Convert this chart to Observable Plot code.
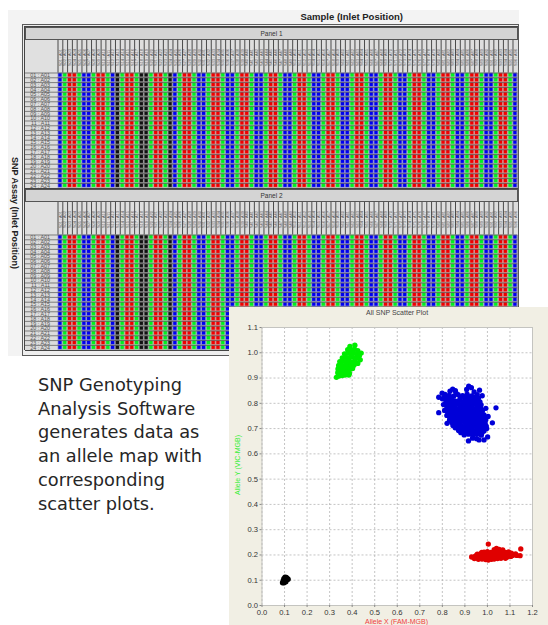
<!DOCTYPE html>
<html><head><meta charset="utf-8">
<script src="https://cdn.jsdelivr.net/npm/d3@7"></script>
<script src="https://cdn.jsdelivr.net/npm/@observablehq/plot@0.6"></script>
<style>
html,body{margin:0;padding:0;background:#fff;width:548px;height:625px;overflow:hidden}
#page{position:relative;width:548px;height:625px;overflow:hidden;font-family:"Liberation Sans",sans-serif}
.box{position:absolute;box-sizing:border-box}
.lab{position:absolute;white-space:nowrap}
.plot{position:absolute}
svg{display:block}
</style></head><body><div id="page"></div>
<script>
// Allele map: call of each sample column (same across all assays in a column), read left to right
const columnCalls = ["B","G","R","R","G","B","B","G","R","R","G","B","K","G","R","R","G","K","K","G","R","R","G","K",
"B","G","R","R","G","B","B","G","R","R","G","B","B","G","R","R","G","B","B","G","R","R","G","B",
"B","G","R","R","G","B","B","G","R","R","G","B","B","G","R","R","G","B","B","G","R","R","G","B",
"B","G","R","R","G","B","B","G","R","R","G","B","B","G","R","R","G","B","B","G","R","R","G","B"];
const sampleLabels = ["01","02","03","04","05","06","07","08","09","10","11","12","13","14","15","16","17","18","19","20","21","22","23","24",
"25","26","27","28","29","30","31","32","33","34","35","36","37","38","39","40","41","42","43","44","45","46","47","48",
"49","50","51","52","53","54","55","56","57","58","59","60","61","62","63","64","65","66","67","68","69","70","71","72",
"73","74","75","76","77","78","79","80","81","82","83","84","85","86","87","88","89","90","91","92","93","94","95","96"];
const assayLabels = ["01 : A01","02 : A02","03 : A03","04 : A04","05 : A05","06 : A06","07 : A07","08 : A08","09 : A09","10 : A10","11 : A11","12 : A12",
"13 : A13","14 : A14","15 : A15","16 : A16","17 : A17","18 : A18","19 : A19","20 : A20","21 : A21","22 : A22","23 : A23","24 : A24"];
const callNames = ["B","G","R","K"];
const callColors = ["#0000f0","#00f020","#f00000","#111111"];

// Scatter clusters
const greenPts = [[.412,1.03],[.39,1.025],[.38,1.012],[.395,1.01],[.41,1.014],[.425,1.008],[.366,.996],[.38,.998],[.394,.993],[.408,.998],[.422,.994],[.44,.999],[.432,.988],
[.356,.98],[.37,.982],[.384,.978],[.398,.983],[.412,.979],[.426,.98],[.436,.972],[.345,.965],[.358,.967],[.372,.964],[.386,.968],[.4,.963],[.414,.966],[.425,.958],
[.34,.95],[.353,.952],[.367,.949],[.38,.953],[.394,.949],[.408,.951],[.337,.936],[.35,.938],[.364,.934],[.378,.938],[.391,.935],[.402,.938],[.336,.921],[.349,.923],[.362,.92],[.376,.923],[.388,.918],
[.33,.903],[.342,.908],[.356,.91],[.368,.912],[.385,.912]];
const bluePts = [[.784,.763],[.784,.824],[.799,.84],[.812,.835],[.846,.856],[.834,.848],[.858,.85],[.917,.868],[.929,.862],[.908,.855],[.965,.852],[.941,.845],[.977,.83],[.955,.834],
[.81,.826],[.83,.831],[.85,.828],[.87,.834],[.89,.83],[.91,.836],[.93,.829],[.948,.825],
[.8,.818],[.818,.812],[.837,.815],[.856,.81],[.876,.813],[.895,.808],[.914,.815],[.933,.81],[.951,.812],[.967,.806],
[.805,.795],[.824,.798],[.843,.792],[.862,.796],[.881,.79],[.9,.795],[.919,.791],[.938,.796],[.957,.79],[.972,.794],[.993,.78],[1.038,.782],
[.81,.772],[.829,.776],[.848,.77],[.867,.774],[.886,.769],[.905,.775],[.924,.77],[.943,.774],[.962,.769],[.978,.772],
[.82,.752],[.838,.755],[.857,.75],[.876,.754],[.895,.749],[.914,.753],[.933,.75],[.952,.755],[.971,.75],[.985,.754],[1.003,.748],
[.821,.721],[.832,.733],[.85,.736],[.869,.731],[.888,.735],[.907,.73],[.926,.734],[.945,.73],[.964,.735],[.983,.73],[.993,.735],[1.022,.723],
[.847,.712],[.866,.716],[.885,.71],[.904,.714],[.923,.71],[.942,.715],[.961,.709],[.98,.713],[.995,.71],
[.872,.692],[.89,.695],[.909,.69],[.928,.694],[.947,.69],[.966,.695],[.985,.69],[.997,.7],
[.897,.675],[.916,.678],[.935,.674],[.954,.678],[.973,.674],[1.001,.667],[.916,.651],[.934,.662],[.952,.66],[.963,.655],[.985,.655],
[.82,.82],[.84,.823],[.86,.842],[.88,.822],[.9,.822],[.92,.824],[.94,.82],[.96,.82],
[.815,.803],[.832,.804],[.85,.803],[.87,.802],[.89,.801],[.91,.802],[.928,.803],[.946,.802],[.965,.8],
[.82,.785],[.838,.784],[.857,.783],[.876,.782],[.895,.783],[.914,.782],[.933,.784],[.952,.782],[.97,.783],
[.825,.763],[.843,.762],[.862,.762],[.881,.761],[.9,.762],[.919,.761],[.938,.762],[.957,.761],[.976,.762],
[.833,.744],[.852,.743],[.871,.742],[.89,.743],[.909,.742],[.928,.743],[.947,.742],[.966,.743],[.984,.742],
[.842,.724],[.861,.724],[.88,.723],[.899,.724],[.918,.723],[.937,.722],[.956,.723],[.975,.722],[.99,.722],
[.857,.703],[.876,.703],[.895,.702],[.914,.703],[.933,.702],[.952,.703],[.971,.702],[.99,.701],
[.882,.684],[.9,.685],[.919,.684],[.938,.684],[.957,.684],[.976,.684]];
const redPts = [[1.004,.243],[1.148,.224],[1.145,.197],[1.04,.226],[1.03,.221],[1.052,.222],[1.068,.22],
[.985,.211],[1.0,.213],[1.016,.21],[1.032,.214],[1.048,.211],[1.064,.213],[1.08,.21],[1.094,.212],
[.955,.203],[.97,.205],[.986,.202],[1.002,.204],[1.018,.201],[1.034,.204],[1.05,.202],[1.066,.204],[1.082,.201],[1.098,.204],[1.114,.202],[1.125,.204],
[.93,.192],[.945,.194],[.961,.192],[.977,.194],[.993,.191],[1.009,.194],[1.025,.192],[1.041,.194],[1.057,.192],[1.073,.194],[1.089,.192],[1.104,.194],
[.942,.186],[.96,.183],[.976,.184],[.992,.182],[1.004,.18],[1.018,.183],[1.03,.184],[1.045,.186],[1.06,.187],[1.08,.187],[1.1,.2],[1.13,.198],
[.95,.197],[.966,.198],[.983,.197],[1.0,.198],[1.016,.197],[1.03,.198],[1.047,.197],[1.064,.198],[1.08,.197],[1.096,.198],[1.112,.198],
[.975,.21],[1.006,.207],[1.024,.207],[1.04,.207],[1.056,.207],[1.072,.207],[1.09,.207],[1.106,.207]];
const blackPts = [[.091,.09],[.098,.09],[.106,.094],[.094,.098],[.102,.1],[.11,.102],[.097,.106],[.105,.108],[.113,.106],[.116,.104],[.108,.111],[.102,.112]];
const scatterTicksX = [0,.1,.2,.3,.4,.5,.6,.7,.8,.9,1,1.1,1.2];
const scatterTicksY = [0,.1,.2,.3,.4,.5,.6,.7,.8,.9,1,1.1];

const page = document.getElementById("page");
function box(x,y,w,h,bg,border){
  const d=document.createElement("div");d.className="box";
  d.style.cssText=`left:${x}px;top:${y}px;width:${w}px;height:${h}px;background:${bg};${border?`border:1px solid ${border};`:""}`;
  page.appendChild(d);return d;
}
function label(text,x,y,css){
  const d=document.createElement("div");d.className="lab";d.textContent=text;
  d.style.cssText=`left:${x}px;top:${y}px;${css}`;
  page.appendChild(d);return d;
}

// Window chrome
box(8,10,511,346,"#f3f3f3");
box(22,24,497,332,"#eeeeee","#5a5a5a");
box(24,26,494,324,"#d8d8d8","#444");
label("Sample (Inlet Position)",300.5,11,"font-weight:bold;font-size:9.5px;line-height:12px;color:#222");
label("SNP Assay (Inlet Position)",15,212.5,"font-weight:bold;font-size:9px;line-height:12px;color:#222;transform:translate(-50%,-50%) rotate(90deg)");

const cells = assayLabels.flatMap(a => sampleLabels.map((s,i)=>({assay:a,sample:s,call:columnCalls[i]})));
function panel(name,top){
  box(25,top-13,492.5,13,"#d4d4d4","#555");
  label(name,260.5,top-11,"font-size:6.5px;line-height:9px;color:#333");
  box(25,top,32.5,32.5,"#e0e0e0");
  box(57.5,top,460,32.5,"#dedede");
  box(25,top+32.5,32.5,115.2,"#dcdcdc");
  const gridH=115.2;
  const p=Plot.plot({
    width:548,height:32.5+gridH,marginLeft:57.5,marginRight:30.7,marginTop:32.5,marginBottom:0,
    style:{background:"transparent",fontFamily:"Liberation Sans"},
    x:{type:"band",domain:sampleLabels,padding:0,round:false,axis:null},
    y:{type:"band",domain:assayLabels,padding:0,round:false,axis:null},
    color:{domain:callNames,range:callColors},
    marks:[
      Plot.frame({fill:"#c8c8c8"}),
      Plot.cell(cells,{x:"sample",y:"assay",fill:"call",fillOpacity:0.3}),
      Plot.cell(cells,{x:"sample",y:"assay",fill:"call",inset:0.8}),
      Plot.ruleY(assayLabels,{y:d=>d,dy:-2.4,stroke:"#3c3c3c",strokeWidth:0.6,insetLeft:-32.5}),
      Plot.ruleX(sampleLabels,{x:d=>d,dx:-2.4,stroke:"#4a4a4a",strokeWidth:1,insetTop:-32.5,insetBottom:gridH}),
      Plot.axisY({anchor:"left",tickSize:0,tickPadding:8,fontSize:5.4,fill:"#555",label:null}),
      Plot.axisX({anchor:"top",tickSize:0,tickPadding:7,fontSize:3.9,tickRotate:-90,fill:"#555",label:null,
        tickFormat:d=>"S"+d+" : A"+d})
    ]
  });
  p.classList.add("plot");p.style.left="0";p.style.top=top+"px";p.style.position="absolute";
  page.appendChild(p);
  box(25,top+32.5+gridH,492.5,1,"#444");
}
panel("Panel 1",40);
panel("Panel 2",202);

// Text block
const para=["SNP Genotyping","Analysis Software","generates data as","an allele map with","corresponding","scatter plots."];
para.forEach((t,i)=>label(t,38,375+i*23.7,"font-family:'DejaVu Sans';font-size:17.8px;line-height:20px;color:#262626"));

// Scatter panel
box(229,307,319,318,"#f1efe4");
const series=[["green",greenPts,"#00ee00"],["blue",bluePts,"#0000d8"],["red",redPts,"#e00000"],["black",blackPts,"#000000"]];
const sc=Plot.plot({
  width:319,height:318,marginLeft:32.5,marginRight:16,marginTop:20,marginBottom:20,
  style:{background:"transparent",fontFamily:"Liberation Sans",fontSize:"7.6px",color:"#333"},
  x:{domain:[0,1.2],axis:null},
  y:{domain:[0,1.1],axis:null},
  marks:[
    Plot.frame({fill:"#fff"}),
    Plot.gridX(scatterTicksX,{stroke:"#aaaaaa",strokeOpacity:1,strokeWidth:0.7,strokeDasharray:"2,2"}),
    Plot.gridY(scatterTicksY,{stroke:"#aaaaaa",strokeOpacity:1,strokeWidth:0.7,strokeDasharray:"2,2"}),
    Plot.frame({stroke:"#c4c4c0"}),
    ...series.map(([n,pts,c])=>Plot.dot(pts,{x:d=>d[0],y:d=>d[1],r:2.65,fill:c})),
    Plot.axisX({ticks:scatterTicksX,tickFormat:".1f",tickSize:2,tickPadding:2,fontSize:7.6,stroke:"#888",fill:"#333",label:null}),
    Plot.axisY({ticks:scatterTicksY,tickFormat:".1f",tickSize:2,tickPadding:2,fontSize:7.6,stroke:"#888",fill:"#333",label:null})
  ]
});
sc.classList.add("plot");sc.style.left="229px";sc.style.top="307px";sc.style.position="absolute";
page.appendChild(sc);
label("All SNP Scatter Plot",366,308,"font-size:7px;line-height:9px;color:#444");
label("Allele X (FAM-MGB)",365,618,"font-size:7px;line-height:8px;color:#f04040");
label("Allele Y (VIC-MGB)",238,465,"font-size:7px;line-height:8px;color:#33ee33;transform:translate(-50%,-50%) rotate(-90deg)");
</script></body></html>
